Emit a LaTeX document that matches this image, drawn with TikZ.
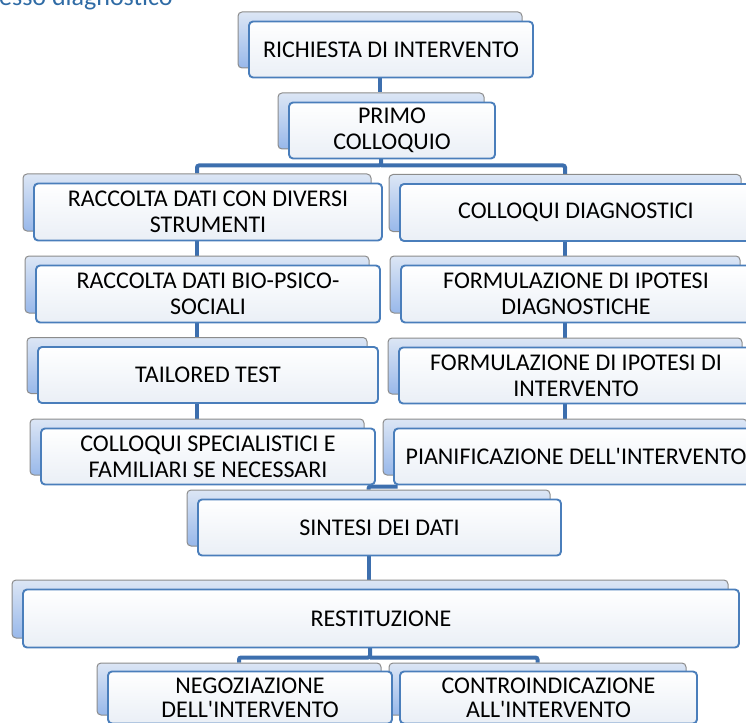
\documentclass[tikz,border=0pt]{standalone}
\usepackage{fontspec}
\setmainfont{Carlito}
\usepackage{tikz}
\usetikzlibrary{positioning}
\usetikzlibrary{backgrounds}
\usetikzlibrary{calc}
\definecolor{linkblue}{HTML}{3D6FAE}
\definecolor{frameblue}{HTML}{4A7EBB}
\definecolor{backtop}{HTML}{DCE6F5}
\definecolor{backbot}{HTML}{98B8EA}
\definecolor{frontbot}{HTML}{EAEFF6}
\definecolor{titleblue}{HTML}{2F6BA5}

\tikzset{
  backbox/.style={draw=gray!90, line width=1pt, rounded corners=4pt, top color=backtop, bottom color=backbot, minimum height=56pt, inner sep=0pt},
  frontbox/.style={draw=frameblue, line width=1.9pt, rounded corners=4pt, top color=white, bottom color=frontbot, minimum height=56pt, inner sep=0pt, align=center, font=\fontsize{24}{26}\selectfont},
  link/.style={draw=linkblue, line width=4pt, rounded corners=2pt}
}

\begin{document}
\begin{tikzpicture}[x=1pt, y=-1pt]
     \useasboundingbox (0,0) rectangle (746,722);
     \clip (0,0) rectangle (746,722);
     \node[anchor=base west, inner sep=0pt, text=titleblue, font=\fontsize{26}{30}\selectfont] (title) at (-1,5.5) {esso diagnostico};

     % back shapes
     \node[backbox, minimum width=284pt] (req) at (380, 40) {};
     \node[backbox, minimum width=206pt] (primo) at (381, 121) {};
     \node[backbox, minimum width=348pt, minimum height=57pt] (rac1) at (197, 202.5) {};
     \node[backbox, minimum width=344pt, minimum height=57pt] (rac2) at (197, 284.5) {};
     \node[backbox, minimum width=340pt] (tail) at (197, 365.5) {};
     \node[backbox, minimum width=334pt] (colsp) at (197, 447) {};
     \node[backbox, minimum width=352pt, minimum height=57pt] (coldiag) at (565, 203) {};
     \node[backbox, minimum width=350pt, minimum height=57pt] (formdiag) at (565, 284.5) {};
     \node[backbox, minimum width=354pt] (formint) at (565, 366) {};
     \node[backbox, minimum width=364pt] (pian) at (565, 447) {};
     \node[backbox, minimum width=363pt] (sint) at (368.5, 518) {};
     \node[backbox, minimum width=716pt, minimum height=58pt] (rest) at (370, 609) {};
     \node[backbox, minimum width=284pt, minimum height=52pt] (negoz) at (239, 689) {};
     \node[backbox, minimum width=297pt, minimum height=52pt] (contr) at (537.5, 689) {};

     % front shapes with text
     \node[frontbox, minimum width=284pt] (req-t) at ([shift={(11pt,-9.5pt)}]req.center) {RICHIESTA DI INTERVENTO};
     \node[frontbox, minimum width=206pt] (primo-t) at ([shift={(11pt,-9.5pt)}]primo.center) {PRIMO\\COLLOQUIO};
     \node[frontbox, minimum width=348pt, minimum height=57pt] (rac1-t) at ([shift={(11pt,-9.5pt)}]rac1.center) {RACCOLTA DATI CON DIVERSI\\STRUMENTI};
     \node[frontbox, minimum width=344pt, minimum height=57pt] (rac2-t) at ([shift={(11pt,-9.5pt)}]rac2.center) {RACCOLTA DATI BIO-PSICO-\\SOCIALI};
     \node[frontbox, minimum width=340pt] (tail-t) at ([shift={(11pt,-9.5pt)}]tail.center) {TAILORED TEST};
     \node[frontbox, minimum width=334pt] (colsp-t) at ([shift={(11pt,-9.5pt)}]colsp.center) {COLLOQUI SPECIALISTICI E\\FAMILIARI SE NECESSARI};
     \node[frontbox, minimum width=352pt, minimum height=57pt] (coldiag-t) at ([shift={(11pt,-9.5pt)}]coldiag.center) {COLLOQUI DIAGNOSTICI};
     \node[frontbox, minimum width=350pt, minimum height=57pt] (formdiag-t) at ([shift={(11pt,-9.5pt)}]formdiag.center) {FORMULAZIONE DI IPOTESI\\DIAGNOSTICHE};
     \node[frontbox, minimum width=354pt] (formint-t) at ([shift={(11pt,-9.5pt)}]formint.center) {FORMULAZIONE DI IPOTESI DI\\INTERVENTO};
     \node[frontbox, minimum width=364pt] (pian-t) at ([shift={(11pt,-9.5pt)}]pian.center) {PIANIFICAZIONE DELL\textquotesingle INTERVENTO};
     \node[frontbox, minimum width=363pt] (sint-t) at ([shift={(11pt,-9.5pt)}]sint.center) {SINTESI DEI DATI};
     \node[frontbox, minimum width=716pt, minimum height=58pt] (rest-t) at ([shift={(11pt,-9.5pt)}]rest.center) {RESTITUZIONE};
     \node[frontbox, minimum width=284pt, minimum height=52pt, font=\fontsize{24}{24}\selectfont] (negoz-t) at ([shift={(11pt,-8.5pt)}]negoz.center) {NEGOZIAZIONE\\DELL\textquotesingle INTERVENTO};
     \node[frontbox, minimum width=297pt, minimum height=52pt, font=\fontsize{24}{24}\selectfont] (contr-t) at ([shift={(11pt,-8.5pt)}]contr.center) {CONTROINDICAZIONE\\ALL\textquotesingle INTERVENTO};

     % connectors
     \begin{scope}[on background layer]
       \draw[link] (req.south) -- (req.south |- primo.north);
       \coordinate (split1) at ($(primo.south)+(0,16)$);
       \draw[link] (primo.south) -- (split1) -| (rac1.north);
       \draw[link] (split1) -| (coldiag.north);
       \draw[link] (rac1.south) -- (rac2.north) (rac2.south) -- (tail.north) (tail.south) -- (colsp.north);
       \draw[link] (coldiag.south) -- (formdiag.north) (formdiag.south) -- (formint.north) (formint.south) -- (pian.north);
       \draw[link] (sint.north) |- ([shift={(15pt,-11pt)}]pian.south west);
       \draw[link] (sint.south) -- (sint.south |- rest.north);
       \coordinate (split2) at ($(rest.south)+(0,19)$);
       \draw[link] (rest.south) -- (split2) -| (negoz.north);
       \draw[link] (split2) -| (contr.north);
     \end{scope}
\end{tikzpicture}
\end{document}
